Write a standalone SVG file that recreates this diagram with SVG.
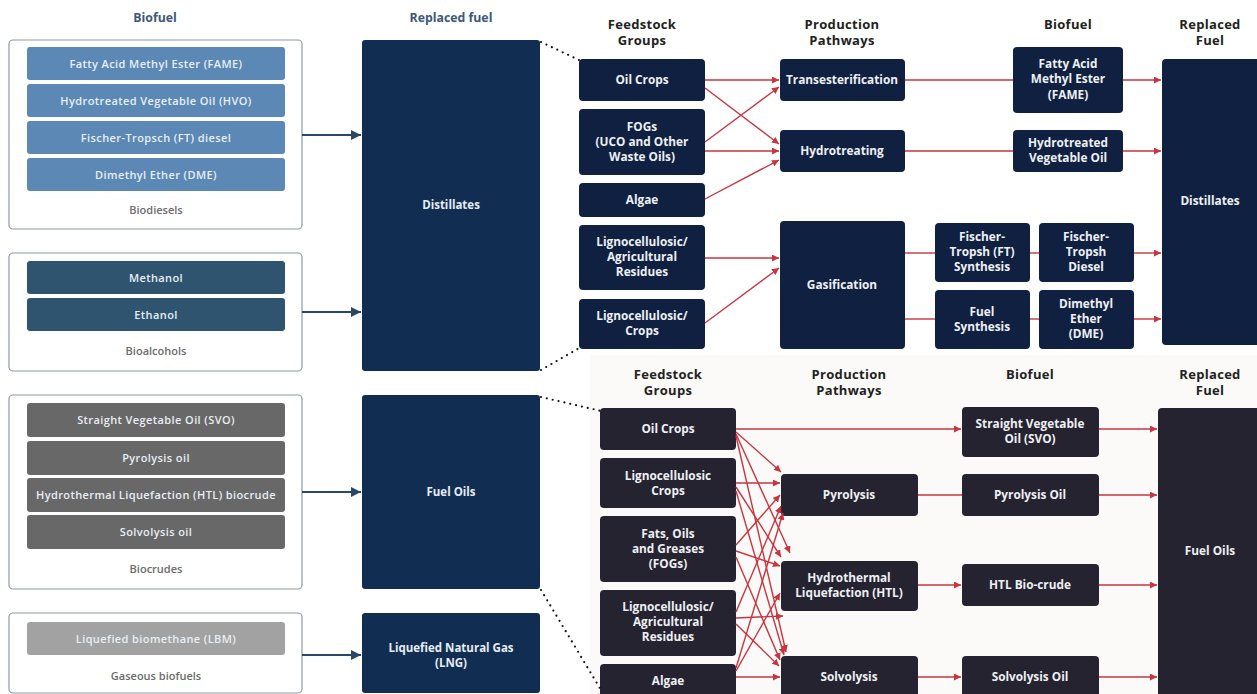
<svg xmlns="http://www.w3.org/2000/svg" width="1257" height="694" viewBox="0 0 1257 694">
<defs>
<style>
text{font-family:"Open Sans",Lato,"DejaVu Sans",sans-serif;font-weight:700;text-anchor:middle}
.hdrL{font-size:12.3px;fill:#3d5878}
.grp{fill:#fff;stroke:#8e99a6;stroke-width:1.2}
.bar{font-size:11px;font-weight:600;letter-spacing:0.4px;fill:#e8eef4}
.glab{font-size:11px;font-weight:600;fill:#6b6b6b}
.rep{fill:#112e52}
.repT{font-size:11.5px;fill:#e6ecf3}
.hdr{font-size:13px;letter-spacing:0.3px;fill:#222}
.nt{fill:#0f2040}
.nb{fill:#24232f}
.tw{font-size:11.8px;fill:#eef0f4}
.la{stroke:#2b4766;stroke-width:2;fill:none}
.ra{stroke:#c9343f;stroke-width:1.4;fill:none}
.dot{stroke:#111;stroke-width:2.2;stroke-linecap:round;stroke-dasharray:0 6;fill:none}
</style>
<marker id="ah" viewBox="0 0 10 10" refX="10" refY="5" markerWidth="10" markerHeight="10" markerUnits="userSpaceOnUse" orient="auto"><path d="M0,0L10,5L0,10z" fill="#2b4766"/></marker>
<marker id="rh" viewBox="0 0 10 10" refX="10" refY="5" markerWidth="7" markerHeight="7" markerUnits="userSpaceOnUse" orient="auto"><path d="M0,0L10,5L0,10z" fill="#c9343f"/></marker>
</defs>
<rect width="1257" height="694" fill="#ffffff"/>
<rect x="590" y="355" width="667" height="339" fill="#fbfaf8"/>

<!-- Left panel headers -->
<text class="hdrL" x="155" y="22">Biofuel</text>
<text class="hdrL" x="451" y="22">Replaced fuel</text>

<g id="biodiesels">
<rect class="grp" x="9" y="40" width="293" height="189" rx="4"/>
<rect x="27" y="47" width="258" height="33" rx="3" fill="#5b88b4"/>
<text class="bar" x="156" y="67.5">Fatty Acid Methyl Ester (FAME)</text>
<rect x="27" y="84" width="258" height="33" rx="3" fill="#5b88b4"/>
<text class="bar" x="156" y="104.5">Hydrotreated Vegetable Oil (HVO)</text>
<rect x="27" y="121" width="258" height="33" rx="3" fill="#5b88b4"/>
<text class="bar" x="156" y="141.5">Fischer-Tropsch (FT) diesel</text>
<rect x="27" y="158" width="258" height="33" rx="3" fill="#5b88b4"/>
<text class="bar" x="156" y="178.5">Dimethyl Ether (DME)</text>
<text class="glab" x="156" y="214">Biodiesels</text>
</g>
<g id="bioalcohols">
<rect class="grp" x="9" y="253" width="293" height="118" rx="4"/>
<rect x="27" y="261" width="258" height="33" rx="3" fill="#2f5470"/>
<text class="bar" x="156" y="281.5">Methanol</text>
<rect x="27" y="298" width="258" height="33" rx="3" fill="#2f5470"/>
<text class="bar" x="156" y="318.5">Ethanol</text>
<text class="glab" x="156" y="355">Bioalcohols</text>
</g>
<g id="biocrudes">
<rect class="grp" x="9" y="395" width="293" height="194" rx="4"/>
<rect x="27" y="403" width="258" height="34" rx="3" fill="#686868"/>
<text class="bar" x="156" y="424">Straight Vegetable Oil (SVO)</text>
<rect x="27" y="441" width="258" height="34" rx="3" fill="#686868"/>
<text class="bar" x="156" y="462">Pyrolysis oil</text>
<rect x="27" y="478" width="258" height="34" rx="3" fill="#686868"/>
<text class="bar" x="156" y="499">Hydrothermal Liquefaction (HTL) biocrude</text>
<rect x="27" y="515" width="258" height="34" rx="3" fill="#686868"/>
<text class="bar" x="156" y="536">Solvolysis oil</text>
<text class="glab" x="156" y="573">Biocrudes</text>
</g>
<g id="gaseous">
<rect class="grp" x="9" y="613" width="293" height="80" rx="4"/>
<rect x="27" y="622" width="258" height="33" rx="3" fill="#a2a2a2"/>
<text class="bar" x="156" y="642.5" fill="#f0f0f0">Liquefied biomethane (LBM)</text>
<text class="glab" x="156" y="680">Gaseous biofuels</text>
</g>
<g id="rep-distillates">
<rect class="rep" x="362" y="40" width="178" height="331" rx="3"/>
<text class="repT" x="451" y="209">Distillates</text>
</g>
<g id="rep-fueloils">
<rect class="rep" x="362" y="395" width="178" height="194" rx="3"/>
<text class="repT" x="451" y="496">Fuel Oils</text>
</g>
<g id="rep-lng">
<rect class="rep" x="362" y="613" width="178" height="80" rx="3"/>
<text class="repT" x="451" y="652">Liquefied Natural Gas</text>
<text class="repT" x="451" y="667">(LNG)</text>
</g>

<!-- Top right headers -->
<text class="hdr" x="642" y="29">Feedstock</text>
<text class="hdr" x="642" y="45">Groups</text>
<text class="hdr" x="842" y="29">Production</text>
<text class="hdr" x="842" y="45">Pathways</text>
<text class="hdr" x="1068" y="29">Biofuel</text>
<text class="hdr" x="1210" y="29">Replaced</text>
<text class="hdr" x="1210" y="45">Fuel</text>

<g id="t-oilcrops"><rect class="nt" x="579" y="59" width="126" height="42" rx="4"/><text class="tw" x="642" y="84">Oil Crops</text></g>
<g id="t-fogs"><rect class="nt" x="579" y="109" width="126" height="66" rx="4"/><text class="tw" x="642" y="131">FOGs</text><text class="tw" x="642" y="146">(UCO and Other</text><text class="tw" x="642" y="161">Waste Oils)</text></g>
<g id="t-algae"><rect class="nt" x="579" y="183" width="126" height="34" rx="4"/><text class="tw" x="642" y="204">Algae</text></g>
<g id="t-lignoag"><rect class="nt" x="579" y="225" width="126" height="65" rx="4"/><text class="tw" x="642" y="246">Lignocellulosic/</text><text class="tw" x="642" y="261">Agricultural</text><text class="tw" x="642" y="276">Residues</text></g>
<g id="t-lignocrops"><rect class="nt" x="579" y="299" width="126" height="50" rx="4"/><text class="tw" x="642" y="320">Lignocellulosic/</text><text class="tw" x="642" y="335">Crops</text></g>
<g id="t-trans"><rect class="nt" x="780" y="59" width="125" height="42" rx="4"/><text class="tw" x="842" y="84">Transesterification</text></g>
<g id="t-hydro"><rect class="nt" x="780" y="130" width="125" height="42" rx="4"/><text class="tw" x="842" y="155">Hydrotreating</text></g>
<g id="t-gasif"><rect class="nt" x="780" y="221" width="125" height="128" rx="4"/><text class="tw" x="842" y="289">Gasification</text></g>
<g id="t-fame"><rect class="nt" x="1013" y="47" width="110" height="66" rx="4"/><text class="tw" x="1068" y="68">Fatty Acid</text><text class="tw" x="1068" y="83">Methyl Ester</text><text class="tw" x="1068" y="99">(FAME)</text></g>
<g id="t-hvo"><rect class="nt" x="1013" y="130" width="110" height="42" rx="4"/><text class="tw" x="1068" y="147">Hydrotreated</text><text class="tw" x="1068" y="162">Vegetable Oil</text></g>
<g id="t-ftsyn"><rect class="nt" x="935" y="223" width="95" height="59" rx="4"/><text class="tw" x="982" y="241">Fischer-</text><text class="tw" x="982" y="256">Tropsh (FT)</text><text class="tw" x="982" y="271">Synthesis</text></g>
<g id="t-ftdiesel"><rect class="nt" x="1039" y="223" width="95" height="59" rx="4"/><text class="tw" x="1086" y="241">Fischer-</text><text class="tw" x="1086" y="256">Tropsh</text><text class="tw" x="1086" y="271">Diesel</text></g>
<g id="t-fuelsyn"><rect class="nt" x="935" y="290" width="95" height="59" rx="4"/><text class="tw" x="982" y="316">Fuel</text><text class="tw" x="982" y="331">Synthesis</text></g>
<g id="t-dme"><rect class="nt" x="1039" y="290" width="95" height="59" rx="4"/><text class="tw" x="1086" y="308">Dimethyl</text><text class="tw" x="1086" y="323">Ether</text><text class="tw" x="1086" y="338">(DME)</text></g>
<g id="t-distillates"><rect class="nt" x="1162" y="59" width="100" height="286" rx="4"/><text class="tw" x="1210" y="205">Distillates</text></g>

<!-- Bottom right headers -->
<text class="hdr" x="668" y="379">Feedstock</text>
<text class="hdr" x="668" y="395">Groups</text>
<text class="hdr" x="849" y="379">Production</text>
<text class="hdr" x="849" y="395">Pathways</text>
<text class="hdr" x="1030" y="379">Biofuel</text>
<text class="hdr" x="1210" y="379">Replaced</text>
<text class="hdr" x="1210" y="395">Fuel</text>

<g id="b-oilcrops"><rect class="nb" x="600" y="408" width="136" height="42" rx="4"/><text class="tw" x="668" y="433">Oil Crops</text></g>
<g id="b-lignocrops"><rect class="nb" x="600" y="458" width="136" height="50" rx="4"/><text class="tw" x="668" y="480">Lignocellulosic</text><text class="tw" x="668" y="495">Crops</text></g>
<g id="b-fogs"><rect class="nb" x="600" y="516" width="136" height="66" rx="4"/><text class="tw" x="668" y="538">Fats, Oils</text><text class="tw" x="668" y="553">and Greases</text><text class="tw" x="668" y="568">(FOGs)</text></g>
<g id="b-lignoag"><rect class="nb" x="600" y="590" width="136" height="66" rx="4"/><text class="tw" x="668" y="611">Lignocellulosic/</text><text class="tw" x="668" y="626">Agricultural</text><text class="tw" x="668" y="641">Residues</text></g>
<g id="b-algae"><rect class="nb" x="600" y="664" width="136" height="40" rx="4"/><text class="tw" x="668" y="685">Algae</text></g>
<g id="b-pyro"><rect class="nb" x="781" y="474" width="137" height="42" rx="4"/><text class="tw" x="849" y="499">Pyrolysis</text></g>
<g id="b-htl"><rect class="nb" x="781" y="561" width="137" height="50" rx="4"/><text class="tw" x="849" y="582">Hydrothermal</text><text class="tw" x="849" y="597">Liquefaction (HTL)</text></g>
<g id="b-solvo"><rect class="nb" x="781" y="656" width="137" height="45" rx="4"/><text class="tw" x="849" y="681">Solvolysis</text></g>
<g id="b-svo"><rect class="nb" x="962" y="407" width="137" height="50" rx="4"/><text class="tw" x="1030" y="428">Straight Vegetable</text><text class="tw" x="1030" y="443">Oil (SVO)</text></g>
<g id="b-pyrooil"><rect class="nb" x="962" y="474" width="137" height="42" rx="4"/><text class="tw" x="1030" y="499">Pyrolysis Oil</text></g>
<g id="b-htlcrude"><rect class="nb" x="962" y="564" width="137" height="42" rx="4"/><text class="tw" x="1030" y="589">HTL Bio-crude</text></g>
<g id="b-solvooil"><rect class="nb" x="962" y="656" width="137" height="45" rx="4"/><text class="tw" x="1030" y="681">Solvolysis Oil</text></g>
<g id="b-fueloils"><rect class="nb" x="1158" y="408" width="104" height="295" rx="4"/><text class="tw" x="1210" y="555">Fuel Oils</text></g>

<g id="connectors">
<!-- left -->
<line class="la" x1="302" y1="135" x2="361" y2="135" marker-end="url(#ah)"/>
<line class="la" x1="302" y1="312" x2="361" y2="312" marker-end="url(#ah)"/>
<line class="la" x1="302" y1="492" x2="361" y2="492" marker-end="url(#ah)"/>
<line class="la" x1="302" y1="655" x2="361" y2="655" marker-end="url(#ah)"/>
<!-- dotted zoom lines -->
<line class="dot" x1="541" y1="42" x2="581" y2="61"/>
<line class="dot" x1="541" y1="370" x2="581" y2="347"/>
<line class="dot" x1="541" y1="397" x2="601" y2="411"/>
<line class="dot" x1="541" y1="590" x2="601" y2="690"/>
<!-- top right -->
<line class="ra" x1="705" y1="80" x2="779" y2="80" marker-end="url(#rh)"/>
<line class="ra" x1="705" y1="88" x2="779" y2="144" marker-end="url(#rh)"/>
<line class="ra" x1="705" y1="142" x2="779" y2="87" marker-end="url(#rh)"/>
<line class="ra" x1="705" y1="151" x2="779" y2="151" marker-end="url(#rh)"/>
<line class="ra" x1="705" y1="199" x2="779" y2="160" marker-end="url(#rh)"/>
<line class="ra" x1="705" y1="258" x2="779" y2="258" marker-end="url(#rh)"/>
<line class="ra" x1="705" y1="323" x2="779" y2="268" marker-end="url(#rh)"/>
<line class="ra" x1="905" y1="80" x2="1013" y2="80"/>
<line class="ra" x1="905" y1="151" x2="1013" y2="151"/>
<line class="ra" x1="905" y1="253" x2="935" y2="253"/>
<line class="ra" x1="1030" y1="253" x2="1039" y2="253"/>
<line class="ra" x1="905" y1="319" x2="935" y2="319"/>
<line class="ra" x1="1030" y1="319" x2="1039" y2="319"/>
<line class="ra" x1="1123" y1="80" x2="1161" y2="80" marker-end="url(#rh)"/>
<line class="ra" x1="1123" y1="151" x2="1161" y2="151" marker-end="url(#rh)"/>
<line class="ra" x1="1134" y1="253" x2="1161" y2="253" marker-end="url(#rh)"/>
<line class="ra" x1="1134" y1="319" x2="1161" y2="319" marker-end="url(#rh)"/>
<!-- bottom right -->
<line class="ra" x1="736" y1="429" x2="961" y2="429" marker-end="url(#rh)"/>
<line class="ra" x1="1099" y1="429" x2="1157" y2="429" marker-end="url(#rh)"/>
<line class="ra" x1="918" y1="495" x2="962" y2="495"/>
<line class="ra" x1="1099" y1="495" x2="1157" y2="495" marker-end="url(#rh)"/>
<line class="ra" x1="918" y1="585" x2="961" y2="585" marker-end="url(#rh)"/>
<line class="ra" x1="1099" y1="585" x2="1157" y2="585" marker-end="url(#rh)"/>
<line class="ra" x1="918" y1="677" x2="961" y2="677" marker-end="url(#rh)"/>
<line class="ra" x1="1099" y1="677" x2="1157" y2="677" marker-end="url(#rh)"/>
<!-- feedstock to pathways -->
<line class="ra" x1="736" y1="432" x2="781" y2="472" marker-end="url(#rh)"/>
<line class="ra" x1="736" y1="434" x2="790" y2="553" marker-end="url(#rh)"/>
<line class="ra" x1="736" y1="436" x2="786" y2="652" marker-end="url(#rh)"/>
<line class="ra" x1="736" y1="483" x2="780" y2="483" marker-end="url(#rh)"/>
<line class="ra" x1="736" y1="487" x2="781" y2="557" marker-end="url(#rh)"/>
<line class="ra" x1="736" y1="491" x2="784" y2="655" marker-end="url(#rh)"/>
<line class="ra" x1="736" y1="545" x2="780" y2="495" marker-end="url(#rh)"/>
<line class="ra" x1="736" y1="551" x2="780" y2="566" marker-end="url(#rh)"/>
<line class="ra" x1="736" y1="557" x2="780" y2="660" marker-end="url(#rh)"/>
<line class="ra" x1="736" y1="612" x2="781" y2="506" marker-end="url(#rh)"/>
<line class="ra" x1="736" y1="618" x2="783" y2="616" marker-end="url(#rh)"/>
<line class="ra" x1="736" y1="624" x2="779" y2="666" marker-end="url(#rh)"/>
<line class="ra" x1="736" y1="668" x2="783" y2="513" marker-end="url(#rh)"/>
<line class="ra" x1="736" y1="671" x2="780" y2="593" marker-end="url(#rh)"/>
<line class="ra" x1="736" y1="677" x2="780" y2="677" marker-end="url(#rh)"/>
</g>
</svg>
